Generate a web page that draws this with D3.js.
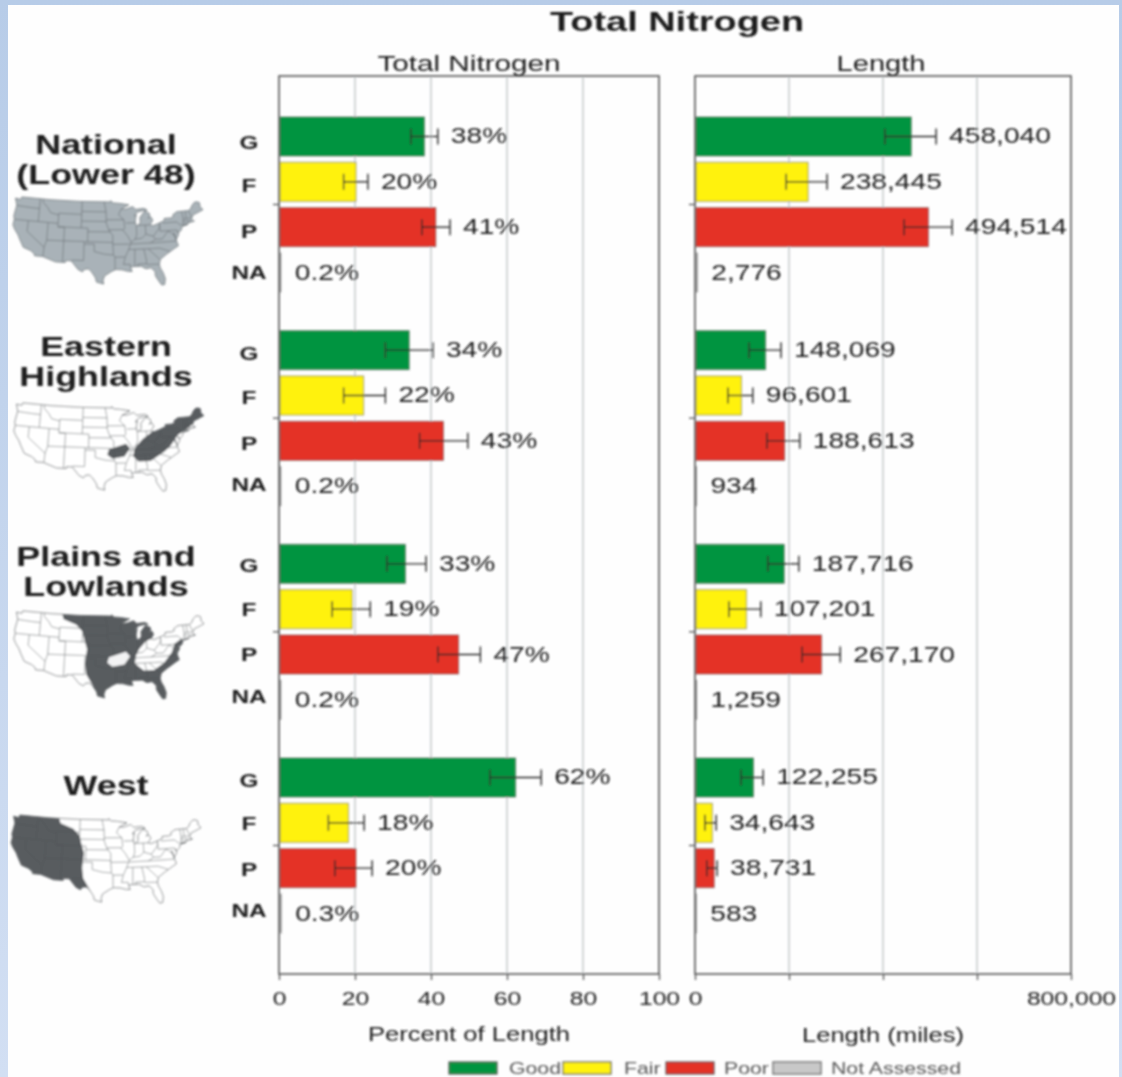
<!DOCTYPE html>
<html>
<head>
<meta charset="utf-8">
<script src="https://cdn.jsdelivr.net/npm/d3@7"></script>
<style>
  html, body { margin: 0; padding: 0; background: #fff; overflow: hidden; }
  svg { display: block; }
  text { font-family: "Liberation Sans", Arial, sans-serif; fill: #1c1c1c; }
</style>
</head>
<body>
<div id="chart"></div>
<script>
// data
const regions = ["National", "Eastern Highlands", "Plains and Lowlands", "West"];
const regionLines = [["National", "(Lower 48)"], ["Eastern", "Highlands"], ["Plains and", "Lowlands"], ["West"]];
const classes = ["G", "F", "P", "NA"];
const legendNames = ["Good", "Fair", "Poor", "Not Assessed"];
const classColors = ["#009440", "#fff20d", "#e43027", "#c8c8c8"];

const pctValues = [[38, 20, 41, 0.2], [34, 22, 43, 0.2], [33, 19, 47, 0.2], [62, 18, 20, 0.3]];
const pctLow = [[34.7, 17, 37.6], [28, 17, 37], [28.4, 14, 41.8], [55.5, 13, 14.7]];
const pctHigh = [[41.8, 23.4, 45], [40.5, 28, 49.7], [38.7, 24, 53], [69, 22.4, 24.5]];

const lenValues = [[458040, 238445, 494514, 2776], [148069, 96601, 188613, 934], [187716, 107201, 267170, 1259], [122255, 34643, 38731, 583]];
const lenLow = [[404000, 194000, 445000], [115000, 70000, 153000], [155000, 72000, 228000], [98000, 21000, 25000]];
const lenHigh = [[513000, 281000, 547000], [183000, 123000, 223000], [221000, 140000, 309000], [145000, 45000, 47000]];

const pctTicks = [0, 20, 40, 60, 80, 100];
const lenTicks = [0, 200000, 400000, 600000, 800000];
const lenTickLabels = ["0", "", "", "", "800,000"];

// map outlines (lon, lat)
const usOutline = [[-124.7,48.4],[-123,48.2],[-122.8,49],[-114,49],[-105,49],[-95.2,49],[-95.1,49.4],[-94.6,48.7],[-92.5,48.5],[-89.6,48],[-92,46.7],[-90.5,46.7],[-88.4,47.4],[-87.5,46.5],[-85,46.7],[-84.4,46.4],[-84,46],[-85.5,46],[-87,45.7],[-87.6,45.1],[-88,44.5],[-87.4,44.9],[-87.8,43],[-87.6,41.7],[-86.8,41.8],[-86.3,42.5],[-86.3,44],[-85.5,45],[-84.8,45.8],[-83.4,45.1],[-83.3,44.3],[-83.9,43.7],[-83,44],[-82.5,43],[-83.1,42.1],[-83.4,41.7],[-82.5,41.4],[-81,41.9],[-79,42.7],[-79,43.3],[-77,43.3],[-76.2,43.6],[-76.3,44.2],[-75,45],[-71.5,45],[-70.8,45.4],[-70,46.7],[-69.2,47.4],[-68.3,47.3],[-67.8,47],[-67.8,45.7],[-67,44.8],[-69,44],[-70.2,43.6],[-70.7,42.7],[-70.7,41.7],[-70,41.8],[-71.3,41.5],[-73.8,40.9],[-72,41],[-74,40.5],[-74.1,39.7],[-75,38.9],[-75.5,39.5],[-75.1,38.4],[-76,37],[-76.5,39],[-76,36.9],[-75.5,35.3],[-76.8,34.6],[-78,33.9],[-79.2,33.2],[-81,32],[-81.4,30.7],[-81.2,29.7],[-80.5,28.4],[-80,26.8],[-80.3,25.3],[-81.1,25.2],[-81.8,26.2],[-82.7,27.7],[-82.7,28.8],[-83.8,29.9],[-85.3,29.7],[-86.5,30.4],[-88.9,30.4],[-89.6,30.2],[-89.2,29.1],[-90.5,29.2],[-92,29.6],[-93.8,29.7],[-95,29.2],[-97,28],[-97.4,26.8],[-97.2,25.9],[-99.2,26.4],[-99.5,27.5],[-100.6,29],[-101.5,29.8],[-102.7,29.7],[-103.2,29],[-104.5,29.6],[-106.5,31.8],[-108.2,31.8],[-108.2,31.3],[-111,31.3],[-114.8,32.5],[-117.1,32.5],[-117.3,33.1],[-118.4,33.8],[-120.6,34.5],[-121.9,36.6],[-122.5,37.7],[-123.8,39.3],[-124.4,40.4],[-124.2,42],[-124.5,43],[-124,46.3]];

const stateLines = [
  [[-124,46.2],[-119,46],[-117,46]], [[-117,49],[-117,44],[-117,42]], [[-124.2,42],[-111,42]],
  [[-120,42],[-120,39],[-114.6,35],[-114.7,32.6]], [[-114,42],[-114,37],[-114.6,35]],
  [[-116,49],[-116,48],[-114.5,46.5],[-113.5,45],[-111,44.5]], [[-111,45],[-104,45]], [[-111,45],[-111,41],[-109,41]],
  [[-109,41],[-109,31.3]], [[-114,37],[-94.6,37]], [[-111,41],[-102,41]], [[-104,49],[-104,41]],
  [[-104,45.9],[-96.6,45.9]], [[-104,43],[-96.5,43]], [[-102,41],[-102,37]], [[-102,40],[-95.3,40]],
  [[-103,37],[-103,32],[-106.5,32]], [[-103,36.5],[-100,36.5],[-100,34.5],[-97,33.8],[-94.5,33.6]],
  [[-97.2,49],[-96.6,45.9],[-96.5,42.5],[-95.8,40.6],[-94.6,39],[-94.6,36.5],[-94.4,33.6],[-94,33],[-94,29.7]],
  [[-95.8,40.6],[-91.5,40.6]], [[-96.5,43.5],[-91.2,43.5]], [[-94,33],[-91.2,33]], [[-94.6,36.5],[-89.7,36.5]],
  [[-92,46.7],[-92.8,45],[-91.2,43.5],[-91,41],[-91.5,40.4],[-90.2,38.8],[-89.2,37],[-90,35],[-91,33],[-91.6,31],[-89.7,31],[-89.6,30.2]],
  [[-90.6,42.5],[-87.8,42.5]], [[-87.5,41.7],[-87.5,39],[-88,37.8]], [[-84.8,41.7],[-84.8,39.1]], [[-87,41.7],[-83.4,41.7]],
  [[-89.2,37],[-88,37.8],[-86,38],[-84.8,39.1],[-82.6,38.4],[-80.7,40.6],[-80.5,42]], [[-80.5,42],[-80.5,39.7],[-75.7,39.7]],
  [[-79.5,42],[-75.3,42],[-74.7,41.3],[-74,41]], [[-75.5,39.7],[-75.1,38.4]], [[-89.5,36.5],[-82,36.6],[-76,36.6]],
  [[-90,35],[-84.3,35],[-83,35],[-81,35],[-79,34.3],[-78,33.9]], [[-84.3,35],[-81.2,32]], [[-88.2,35],[-88.4,30.4]], [[-85.6,35],[-85,32],[-85,31],[-87.6,31],[-87.5,30.4]],
  [[-85,30.8],[-81.5,30.7]], [[-82.6,38.4],[-82,37.5],[-83.6,36.6]], [[-82,37.5],[-80,37.5],[-78.3,39.5],[-77.5,39.2],[-76.3,38]],
  [[-73.5,45],[-73.3,42.7],[-73.5,41.2]], [[-73.3,42.7],[-70.9,42.8]], [[-73.5,42],[-71.5,42],[-71.7,41.3]], [[-72.4,45],[-72.4,42.7]], [[-71.5,45],[-70.8,43.2]]
];

const ozarks = [[-96,36.8],[-91,38.3],[-89.8,37],[-91.5,34.8],[-95,34.2],[-96.5,35.3]];
const appalachians = [[-89,34.8],[-88.5,37],[-86,39.5],[-83,41.5],[-81,43],[-77,44],[-75,45.5],[-72,45.5],[-70,48],[-66,47.5],[-66,44.5],[-71,42.5],[-72.5,41.5],[-75.5,40],[-78,37],[-80,35.5],[-84,33.3],[-87.5,33.3]];
const westRegion = [[-111,50.5],[-110,47.5],[-106,46],[-104,44],[-103.5,42],[-102.5,39],[-103,35],[-102.5,32],[-100.5,29],[-100,27],[-128,27],[-128,50.5]];
const plainsRegion = [[-111,50.5],[-84,50.5],[-84,47],[-82,44],[-83,42],[-85,41],[-87,39],[-88,37.3],[-88.5,35],[-86,33],[-83,33],[-80,34.8],[-77.5,37.5],[-76.5,39.8],[-74.5,41],[-72,40],[-70,30],[-78,24],[-100,24],[-100.5,29],[-102.5,32],[-103,35],[-102.5,39],[-103.5,42],[-104,44],[-106,46],[-110,47.5]];

const width = 1122, height = 1077;
const stretch = 1.28;

const svg = d3.select("#chart").append("svg")
    .attr("width", width)
    .attr("height", height);

const defs = svg.append("defs");
defs.append("filter").attr("id", "soft")
    .attr("filterUnits", "userSpaceOnUse")
    .attr("x", 0).attr("y", 0)
    .attr("width", width).attr("height", height)
    .append("feGaussianBlur").attr("stdDeviation", 0.8);
const grad = defs.append("linearGradient").attr("id", "edge")
    .attr("x1", 0).attr("y1", 0).attr("x2", 0).attr("y2", 1);
grad.append("stop").attr("offset", 0).attr("stop-color", "#b7cce8");
grad.append("stop").attr("offset", 1).attr("stop-color", "#d2dff3");

// slide background
svg.append("rect").attr("width", width).attr("height", height).attr("fill", "url(#edge)");
svg.append("rect").attr("x", 8).attr("y", 5).attr("width", 1111).attr("height", height - 5).attr("fill", "#fefefe");

const root = svg.append("g").attr("filter", "url(#soft)");

// all text is stretched sideways, the picture was resized unevenly
function label(parent, x, y, str, size, opts = {}) {
    return parent.append("text")
        .attr("transform", `translate(${x},${y}) scale(${opts.stretch || stretch},1)`)
        .attr("text-anchor", opts.anchor || "middle")
        .attr("font-size", size)
        .attr("font-weight", opts.bold ? "bold" : "normal")
        .text(str);
}

// scales
const frameTop = 76, frameBottom = 974;
const xPct = d3.scaleLinear().domain([0, 100]).range([279, 659]);
const xLen = d3.scaleLinear().domain([0, 800000]).range([695, 1071]);
const yGroup = d3.scaleBand().domain(regions).range([117, 933]).paddingInner(0.181);
const yRow = d3.scaleBand().domain(classes).range([0, yGroup.bandwidth()]).paddingInner(0.14);

function drawPanel(x, ticks, tickLabels, values, low, high, fmt) {
    const panel = root.append("g");

    // grid
    panel.selectAll(".grid").data(ticks.slice(1, -1)).enter().append("line")
        .attr("x1", d => x(d)).attr("x2", d => x(d))
        .attr("y1", frameTop).attr("y2", frameBottom)
        .attr("stroke", "#c9cdd0").attr("stroke-width", 1.6);

    regions.forEach((region, r) => {
        const g = panel.append("g").attr("transform", `translate(0,${yGroup(region)})`);

        g.selectAll("rect").data(values[r]).enter().append("rect")
            .attr("x", x(0) + 1)
            .attr("y", (d, i) => yRow(classes[i]))
            .attr("width", d => x(d) - x(0))
            .attr("height", yRow.bandwidth())
            .attr("fill", (d, i) => classColors[i])
            .attr("stroke", "#555")
            .attr("stroke-opacity", 0.6)
            .attr("stroke-width", 1);

        // error bars only on the assessed classes
        low[r].forEach((lo, i) => {
            const cy = yRow(classes[i]) + yRow.bandwidth() / 2;
            const hi = high[r][i];
            g.append("line").attr("x1", x(lo)).attr("x2", x(hi)).attr("y1", cy).attr("y2", cy)
                .attr("stroke", "#2a2a2a").attr("stroke-width", 1.4);
            [lo, hi].forEach(v => {
                g.append("line").attr("x1", x(v)).attr("x2", x(v)).attr("y1", cy - 8).attr("y2", cy + 8)
                    .attr("stroke", "#2a2a2a").attr("stroke-width", 1.4);
            });
        });

        values[r].forEach((v, i) => {
            const cy = yRow(classes[i]) + yRow.bandwidth() / 2;
            const lx = i < 3 ? x(high[r][i]) + 13 : x(v) + 15;
            label(g, lx, cy + 7, fmt(v), 22, { anchor: "start" });
        });
    });

    // frame
    panel.append("rect")
        .attr("x", x.range()[0]).attr("y", frameTop)
        .attr("width", x.range()[1] - x.range()[0]).attr("height", frameBottom - frameTop)
        .attr("fill", "none").attr("stroke", "#555").attr("stroke-width", 1.6);

    const yAxis = panel.append("g")
        .attr("transform", `translate(${x.range()[0]},0)`)
        .call(d3.axisLeft(yGroup).tickSize(6).tickFormat(""));
    yAxis.select(".domain").remove();
    yAxis.selectAll("line").attr("stroke", "#555").attr("stroke-width", 1.3);

    const xAxis = panel.append("g")
        .attr("transform", `translate(0,${frameBottom})`)
        .call(d3.axisBottom(x).tickValues(ticks).tickSize(6).tickPadding(12)
            .tickFormat((d, i) => tickLabels[i]));
    xAxis.select(".domain").remove();
    xAxis.selectAll("line").attr("stroke", "#555").attr("stroke-width", 1.3);
    xAxis.selectAll("text")
        .attr("font-size", 19)
        .attr("font-family", "Liberation Sans")
        .attr("fill", "#2b2b2b")
        .attr("transform", "scale(1.3,1)");
}

const fmtPct = d => d + "%";
drawPanel(xPct, pctTicks, pctTicks.map(String), pctValues, pctLow, pctHigh, fmtPct);
drawPanel(xLen, lenTicks, lenTickLabels, lenValues, lenLow, lenHigh, d3.format(","));

// titles
label(root, 677, 31, "Total Nitrogen", 28, { bold: true, stretch: 1.355 });
label(root, 469, 71, "Total Nitrogen", 22, { stretch: 1.35 });
label(root, 881, 71, "Length", 22, { stretch: 1.32 });
label(root, 469, 1041, "Percent of Length", 20);
label(root, 883, 1042, "Length (miles)", 20);

// class letters, not quite level with the bars in the picture
const letterY = [[149, 192, 238, 279], [360, 404, 450, 491], [572, 616, 661, 703], [787, 830, 876, 917]];
regions.forEach((region, r) => {
    classes.forEach((c, i) => {
        label(root, 249, letterY[r][i], c, 19, { bold: true });
    });
});

// region names
const nameY = [[154, 184], [356, 386], [566, 596], [795]];
regions.forEach((region, r) => {
    regionLines[r].forEach((line, i) => {
        label(root, 106, nameY[r][i], line, 27, { bold: true, stretch: 1.33 });
    });
});

// maps
const mapBoxes = [[13, 197], [14, 403], [14, 611], [11, 815]];
const mapH = 88, mapW = 190;
const projection = d3.geoAlbers()
    .parallels([5, 25])
    .rotate([96, 0])
    .fitSize([mapW, mapH], { type: "LineString", coordinates: usOutline });
const mapBounds = d3.geoPath(projection).bounds({ type: "LineString", coordinates: usOutline });
const mapSx = mapW / (mapBounds[1][0] - mapBounds[0][0]);
const mapSy = mapH / (mapBounds[1][1] - mapBounds[0][1]);
const mapLine = d3.line();
const toPath = (pts, close) => mapLine(pts.map(projection)) + (close ? "Z" : "");

defs.append("clipPath").attr("id", "usClip")
    .append("path").attr("d", toPath(usOutline, true));

const mapRegions = [
    [],
    [[ozarks, "dark"], [appalachians, "dark"]],
    [[plainsRegion, "dark"], [ozarks, "light"]],
    [[westRegion, "dark"]]
];

mapBoxes.forEach((box, m) => {
    const national = m === 0;
    const g = root.append("g")
        .attr("transform", `translate(${box[0] - mapBounds[0][0] * mapSx},${box[1] - mapBounds[0][1] * mapSy}) scale(${mapSx},${mapSy})`);
    g.append("path").attr("d", toPath(usOutline, true))
        .attr("fill", national ? "#a9b2b8" : "#fff");
    const clip = g.append("g").attr("clip-path", "url(#usClip)");
    clip.selectAll("path.state").data(stateLines).enter().append("path")
        .attr("class", "state")
        .attr("d", d => toPath(d, false))
        .attr("fill", "none")
        .attr("stroke", national ? "#6d7478" : "#7c8082")
        .attr("stroke-width", 0.7);
    // regions go over the state lines so the lines stay faint inside them
    mapRegions[m].forEach(([pts, tone]) => {
        clip.append("path").attr("d", toPath(pts, true))
            .attr("fill", tone === "dark" ? "#4b5053" : "#fff")
            .attr("fill-opacity", 0.93);
    });
    g.append("path").attr("d", toPath(usOutline, true))
        .attr("fill", "none")
        .attr("stroke", national ? "#6d7478" : "#666a6c")
        .attr("stroke-width", 0.8);
});

// legend
const legendX = d3.scaleOrdinal().domain(legendNames).range([449, 563, 666, 773]);
const legendTextX = [509, 624, 724, 831];
legendNames.forEach((name, i) => {
    root.append("rect")
        .attr("x", legendX(name)).attr("y", 1062)
        .attr("width", 48).attr("height", 12)
        .attr("fill", classColors[i])
        .attr("stroke", "#555").attr("stroke-width", 1.2);
    label(root, legendTextX[i], 1074, name, 16, { anchor: "start", stretch: 1.33 }).style("fill", "#555");
});
</script>
</body>
</html>
